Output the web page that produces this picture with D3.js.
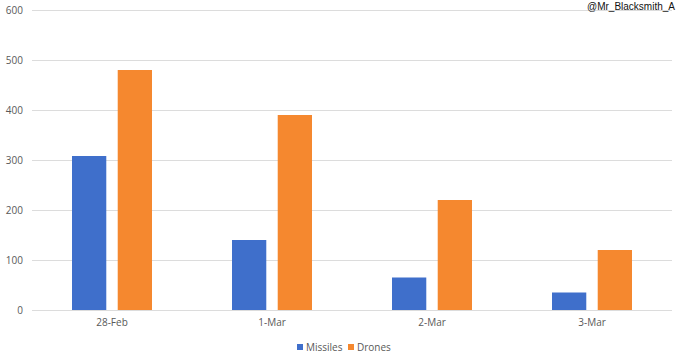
<!DOCTYPE html>
<html><head><meta charset="utf-8">
<script src="https://cdn.jsdelivr.net/npm/d3@7"></script>
<style>
html,body{margin:0;padding:0;background:#fff;}
svg{display:block;font-family:"Open Sans","Liberation Sans",sans-serif;}
</style></head>
<body>
<svg id="chart" width="680" height="358"></svg>
<script>
const categories = ["28-Feb","1-Mar","2-Mar","3-Mar"];
const seriesNames = ["Missiles","Drones"];
const missiles = [308,140,65,35];
const drones = [480,390,220,120];
const yTicks = [0,100,200,300,400,500,600];
const colors = ["#3F6FCB","#F5882F"];

const svg = d3.select("#chart");
const m = {left:32, right:8, top:10, bottom:48};
const W = 680, H = 358;
const x0 = d3.scaleBand().domain(categories).range([m.left, W - m.right]).padding(0);
const x1 = d3.scaleBand().domain(seriesNames).range([40, 120]).paddingInner(0.25).paddingOuter(0);
const y = d3.scaleLinear().domain([0,600]).range([H - m.bottom, m.top]);

// gridlines
svg.append("g").selectAll("line").data(yTicks).join("line")
  .attr("x1", m.left).attr("x2", W - m.right)
  .attr("y1", d=>y(d)+0.5).attr("y2", d=>y(d)+0.5)
  .attr("stroke","#dcdcdc").attr("stroke-width",1);

// y axis labels
const yAxis = d3.axisLeft(y).tickValues(yTicks).tickSize(0).tickPadding(9);
const ya = svg.append("g").attr("transform",`translate(${m.left},0)`).call(yAxis);
ya.select(".domain").remove();
ya.selectAll("text").attr("fill","#595959").style("font-size","10px").style("font-family","'Open Sans',sans-serif");

// x axis labels
const xAxis = d3.axisBottom(x0).tickSize(0).tickPadding(9);
const xa = svg.append("g").attr("transform",`translate(0,${y(0)})`).call(xAxis);
xa.select(".domain").remove();
xa.selectAll("text").attr("fill","#595959").style("font-size","10px").style("font-family","'Open Sans',sans-serif");

// bars
const series = [missiles, drones];
series.forEach((vals, si) => {
  svg.append("g").selectAll("rect").data(categories).join("rect")
    .attr("x", c => x0(c) + x1(seriesNames[si]))
    .attr("width", x1.bandwidth())
    .attr("y", (c,i) => y(vals[i]))
    .attr("height", (c,i) => y(0) - y(vals[i]))
    .attr("fill", colors[si]);
});

// legend
const leg = svg.append("g").attr("transform","translate(297,347)");
const legX = [0, 51];
seriesNames.forEach((n,i)=>{
  const g = leg.append("g").attr("transform",`translate(${legX[i]},0)`);
  g.append("rect").attr("x",0).attr("y",-3).attr("width",6).attr("height",6).attr("fill",colors[i]);
  g.append("text").attr("x",9).attr("y",3.5).text(n).attr("fill","#595959")
    .style("font-size","10px").style("font-family","'Open Sans',sans-serif");
});

// watermark
svg.append("text").attr("x",675).attr("y",10).attr("text-anchor","end")
  .text("@Mr_Blacksmith_A").attr("fill","#111")
  .style("font-size","10px").style("font-family","'Liberation Sans',Arial,sans-serif");
</script>
</body></html>
